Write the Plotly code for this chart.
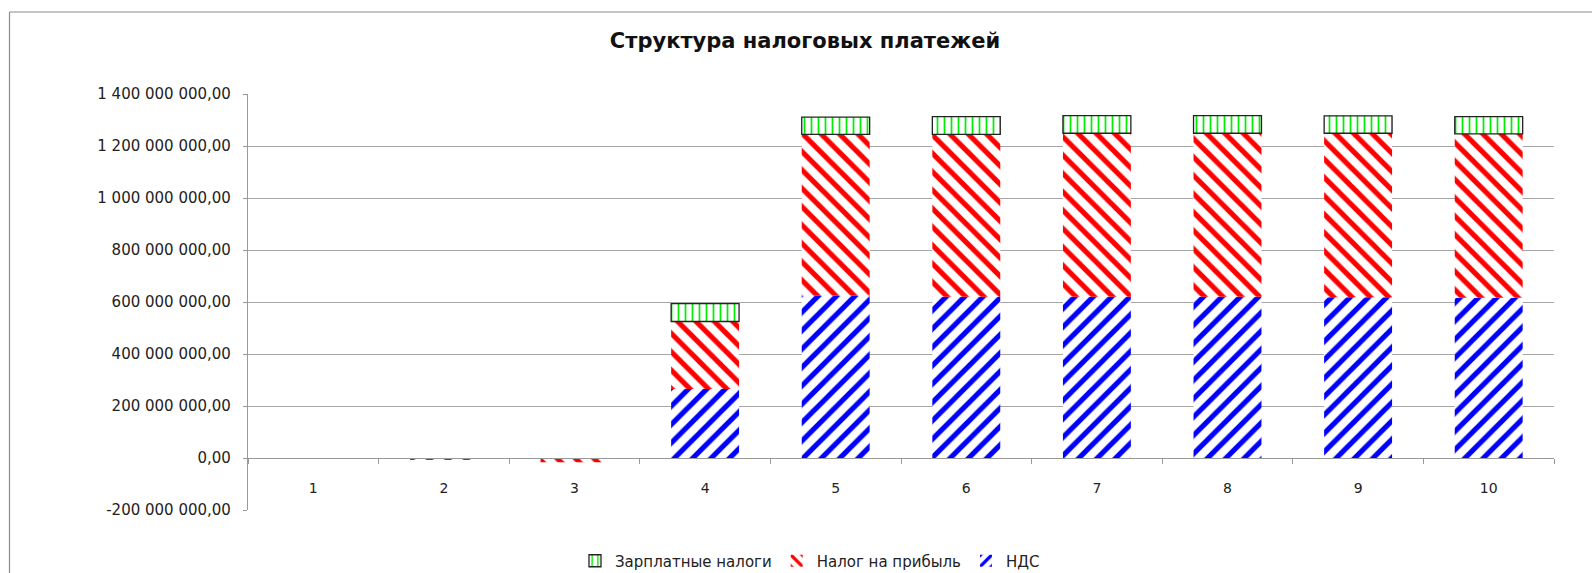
import plotly.graph_objects as go

categories = ["1", "2", "3", "4", "5", "6", "7", "8", "9", "10"]
nds = [None, None, None, 265e6, 624e6, 620e6, 620e6, 620e6, 618e6, 616e6]
profit_tax = [None, -6e6, -16e6, 260e6, 621e6, 625e6, 629e6, 629e6, 631e6, 631e6]
salary_tax = [None, None, None, 69e6, 66e6, 68e6, 68e6, 68e6, 67e6, 66e6]
tick_vals = [-2e8, 0, 2e8, 4e8, 6e8, 8e8, 10e8, 12e8, 14e8]
tick_text = ["-200 000 000,00", "0,00", "200 000 000,00", "400 000 000,00",
             "600 000 000,00", "800 000 000,00", "1 000 000 000,00",
             "1 200 000 000,00", "1 400 000 000,00"]

W, H = 1592, 573
L, R, T, B = 248, 38, 94, 63
pw, ph = W - L - R, H - T - B

font_main = "DejaVu Sans"

fig = go.Figure()
fig.add_trace(go.Bar(
    x=categories, y=nds, name="НДС", width=0.52,
    marker=dict(color="white", line=dict(width=0),
                pattern=dict(shape="/", fgcolor="#0000FF", bgcolor="white",
                             size=13, solidity=0.4, fillmode="replace", fgopacity=1)),
))
fig.add_trace(go.Bar(
    x=categories, y=profit_tax, name="Налог на прибыль", width=0.52,
    marker=dict(color="white", line=dict(width=0),
                pattern=dict(shape="\\", fgcolor="#FF0000", bgcolor="white",
                             size=13, solidity=0.4, fillmode="replace", fgopacity=1)),
))
fig.add_trace(go.Bar(
    x=categories, y=salary_tax, name="Зарплатные налоги", width=0.52,
    marker=dict(color="white", line=dict(width=1.3, color="#222222"),
                pattern=dict(shape="|", fgcolor="#00EE00", bgcolor="white",
                             size=7, solidity=0.25, fillmode="replace", fgopacity=1)),
))

def px_x(p):
    return (p - L) / pw

def px_y(p):
    return (H - B - p) / ph

shapes = [
    dict(type="line", xref="paper", yref="paper",
         x0=px_x(9.5), x1=px_x(W + 20), y0=px_y(12), y1=px_y(12),
         line=dict(color="#8c8c8c", width=1.2)),
    dict(type="line", xref="paper", yref="paper",
         x0=px_x(9.5), x1=px_x(9.5), y0=px_y(12), y1=px_y(H + 20),
         line=dict(color="#8c8c8c", width=1.2)),
]

fig.update_layout(
    width=W, height=H,
    margin=dict(l=L, r=R, t=T, b=B, autoexpand=False),
    barmode="relative",
    plot_bgcolor="white", paper_bgcolor="white",
    font=dict(family=font_main, color="#222222", size=14),
    title=dict(text="<b>Структура налоговых платежей</b>", x=805 / W, xanchor="center",
               y=1 - 41 / H, yanchor="middle",
               font=dict(family=font_main, size=21, color="#111111")),
    showlegend=True,
    legend=dict(orientation="h", x=px_x(810), xanchor="center", y=px_y(561), yanchor="middle",
                traceorder="reversed", font=dict(size=15, family=font_main),
                itemwidth=30, bgcolor="rgba(0,0,0,0)"),
    shapes=shapes,
    xaxis=dict(
        type="category", anchor="free", position=0.125,
        showline=True, linecolor="#999999", linewidth=1.2,
        showgrid=False, tickson="boundaries", ticks="outside", ticklen=5,
        tickcolor="#999999", ticklabelstandoff=17,
        tickfont=dict(family=font_main, size=14, color="#222222"),
        range=[-0.5, 9.5],
    ),
    yaxis=dict(
        range=[-2e8, 1.4e9], tickvals=tick_vals, ticktext=tick_text,
        showline=True, linecolor="#999999", linewidth=1.2,
        showgrid=True, gridcolor="#a6a6a6", gridwidth=1.2,
        zeroline=False, ticks="outside", ticklen=4, tickcolor="#999999",
        ticklabelstandoff=9,
        tickfont=dict(family=font_main, size=15, color="#222222"),
    ),
)

fig.write_html("out.html", config={"displayModeBar": False},
               post_script="document.body.style.margin='0';")
